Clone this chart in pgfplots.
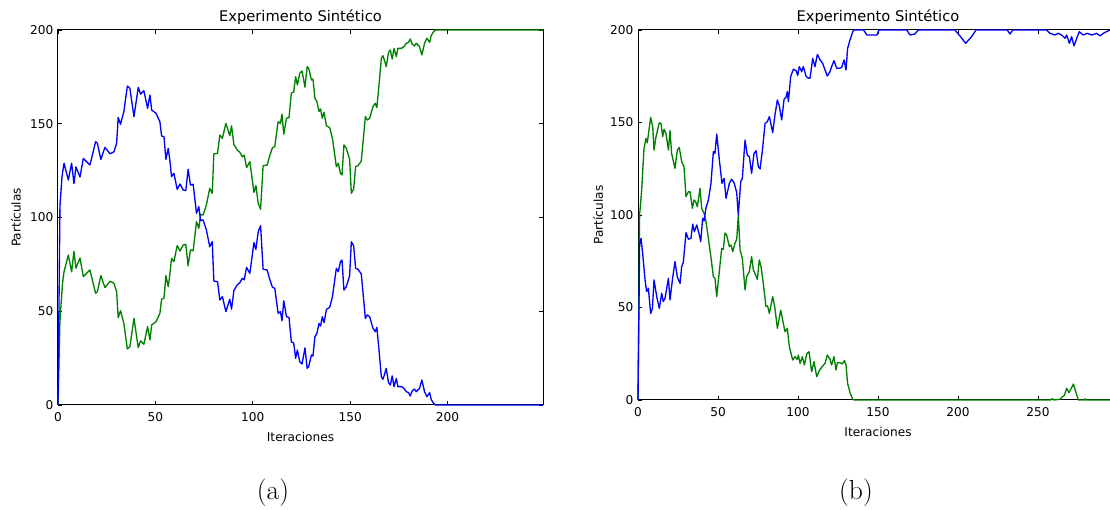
\documentclass[border=0pt]{standalone}
\usepackage{fontspec}
\newfontfamily\dejavu{DejaVu Sans}
\usepackage{pgfplots}
\pgfplotsset{compat=1.18}

\definecolor{mplblue}{rgb}{0,0,1}
\definecolor{mplgreen}{rgb}{0,0.5,0}

% shared look of both panels (matplotlib classic style)
\pgfplotsset{
  sint/.style={
    scale only axis,
    ymin=0, ymax=200, ytick={0,50,100,150,200},
    /pgf/number format/assume math mode=true,
    tick label style={font=\dejavu\fontsize{9.1}{11}\selectfont},
    xticklabel style={yshift=-2.4pt},
    label style={font=\dejavu\fontsize{9.1}{11}\selectfont},
    every axis title shift=0pt,
    title style={font=\dejavu\fontsize{11}{13}\selectfont,
                 at={(axis description cs:0.5,1.035)}, anchor=center},
    title={Experimento Sintético},
    xlabel={Iteraciones}, ylabel={Partículas},
    tick align=inside,
    major tick length=3pt,
    axis line style={line width=0.75pt},
    tick style={black, line width=0.5pt},
    clip=false,
  },
  blueline/.style={color=mplblue, line width=1pt, line join=round},
  greenline/.style={color=mplgreen, line width=1pt, line join=round},
}

\begin{document}
\begin{tikzpicture}

% ---------- (a) ----------
\begin{axis}[sint,
    at={(43.5pt,78.75pt)}, anchor=south west,
    width=363.75pt, height=281.25pt,
    xmin=0, xmax=249, xtick={0,50,100,150,200},
    xlabel style={at={(axis description cs:0.5,-0.085)}, anchor=center},
    ylabel style={at={(axis description cs:-0.087,0.5)}, anchor=center},
]
\addplot[greenline] coordinates {
(0,0) (1,45) (2,60) (2.4,65.8) (3.1,71.1) (5.3,80) (7,71) (8.2,82) (9.2,73)
(11.3,78.4) (13,68.5) (16.4,72) (19.3,59.6) (20.2,60.4) (22,69) (24.1,62.6)
(26.7,66) (28.7,65) (30.1,60.4) (30.9,46.6) (32.1,50.3) (33.8,43.6) (35.6,29.9)
(36.9,31.1) (39,46.2) (41.2,30.6) (42.4,34.2) (44.1,32.4) (46,41.8) (47.2,34.7)
(48.1,42.7) (50.3,44.4) (52.3,48.9) (53.2,56.5) (54.4,56.9) (55.4,69) (56.6,63.1)
(57.4,69.3) (58.3,78.2) (59.5,76.4) (61.2,85) (62.6,82.1) (64.3,85.3) (65.6,85.7)
(66.8,74.3) (68,82.7) (69.4,82.3) (71.1,97.8) (72.3,94.2) (73.2,101.7) (74.5,101.3)
(76.2,106.7) (77.9,115.6) (79.2,112.9) (80,133.9) (81.9,134.2) (83.1,144) (84.4,142.2)
(86.2,150.2) (88.2,143.6) (89.1,148.9) (90.3,139) (92,136) (93.4,134.7) (94.6,132.4)
(95.6,133.3) (96.8,126.6) (98.5,129.8) (100.6,113.4) (101.6,117) (102.8,107.5)
(104,104.4) (105.3,127.6) (107.4,128) (108.7,132.9) (110.1,137.2) (111.3,137.8)
(113,151.1) (114.2,150.2) (115,155.1) (115.9,144.4) (117.3,152.9) (118.6,153.3)
(119.8,166.3) (121,166.9) (122,175.1) (122.9,170.7) (124.1,176.9) (125.3,178.1)
(126.8,169.5) (127.9,180.4) (128.7,179.6) (130.1,173.3) (130.9,173.9) (131.9,163.6)
(132.9,161.8) (134,156.5) (134.8,157.9) (135.7,152.9) (136.6,156.1) (137.8,149)
(139.5,147.9) (140.9,142.2) (142.9,127.1) (143.9,128.9) (145,123.6) (145.8,122.7)
(146.8,138.7) (148,136.9) (149.7,131.2) (150.6,112.9) (151.8,115.2) (152.8,127.1)
(154,127.6) (155.7,130.1) (156.9,143.6) (157.8,153.8) (158.8,152) (160,152.9)
(161.7,159.1) (162.9,160.9) (163.7,158.6) (164.8,170.7) (166,184.9) (166.8,186.3)
(167.7,183.5) (168.5,180.4) (169.7,188.1) (170.6,189.3) (171.6,184.5) (172.5,190.2)
(173.7,185.8) (174.5,190.2) (176.3,190.2) (177.6,191.1) (178.8,192.9) (180,193.4)
(180.8,195.2) (181.9,192.4) (183,191.5) (183.9,192.9) (185.6,191.1) (186.8,186.7)
(188.2,192.9) (189.4,195.6) (190.8,193.4) (191.6,197) (192.8,199.1) (193.8,200)
(249,200)
};
\addplot[blueline] coordinates {
(0,0) (1,106) (2,121) (2.4,124.4) (3.1,128.9) (5.3,120) (7,129) (8.2,118) (9.2,127)
(11.3,121.6) (13,131.5) (16.4,128) (19.3,140.4) (20.2,139.6) (22,131) (24.1,137.4)
(26.7,134) (28.7,135) (30.1,139.6) (30.9,153.4) (32.1,149.7) (33.8,156.4) (35.6,170.1)
(36.9,168.9) (39,153.8) (41.2,169.4) (42.4,165.8) (44.1,167.6) (46,158.2) (47.2,165.3)
(48.1,157.3) (50.3,155.6) (52.3,151.1) (53.2,143.5) (54.4,143.1) (55.4,131) (56.6,136.9)
(57.4,130.7) (58.3,121.8) (59.5,123.6) (61.2,115) (62.6,117.9) (64.3,114.7) (65.6,114.3)
(66.8,125.7) (68,117.3) (69.4,117.7) (71.1,102.2) (72.3,105.8) (73.2,98.3) (74.5,98.7)
(76.2,93.3) (77.9,84.4) (79.2,87.1) (80,66.1) (81.9,65.8) (83.1,56) (84.4,57.8)
(86.2,49.8) (88.2,56.4) (89.1,51.1) (90.3,61) (92,64) (93.4,65.3) (94.6,67.6)
(95.6,66.7) (96.8,73.4) (98.5,70.2) (100.6,86.6) (101.6,83) (102.8,92.5) (104,95.6)
(105.3,72.4) (107.4,72) (108.7,67.1) (110.1,62.8) (111.3,62.2) (113,48.9) (114.2,49.8)
(115,44.9) (115.9,55.6) (117.3,47.1) (118.6,46.7) (119.8,33.7) (121,33.1) (122,24.9)
(122.9,29.3) (124.1,23.1) (125.3,21.9) (126.8,30.5) (127.9,19.6) (128.7,20.4)
(130.1,26.7) (130.9,26.1) (131.9,36.4) (132.9,38.2) (134,43.5) (134.8,42.1)
(135.7,47.1) (136.6,43.9) (137.8,51) (139.5,52.1) (140.9,57.8) (142.9,72.9)
(143.9,71.1) (145,76.4) (145.8,77.3) (146.8,61.3) (148,63.1) (149.7,68.8) (150.6,87.1)
(151.8,84.8) (152.8,72.9) (154,72.4) (155.7,69.9) (156.9,56.4) (157.8,46.2) (158.8,48)
(160,47.1) (161.7,40.9) (162.9,39.1) (163.7,41.4) (164.8,29.3) (166,15.1) (166.8,13.7)
(167.7,16.5) (168.5,19.6) (169.7,11.9) (170.6,10.7) (171.6,15.5) (172.5,9.8)
(173.7,14.2) (174.5,9.8) (176.3,9.8) (177.6,8.9) (178.8,7.1) (180,6.6) (180.8,4.8)
(181.9,7.6) (183,8.5) (183.9,7.1) (185.6,8.9) (186.8,13.3) (188.2,7.1) (189.4,4.4)
(190.8,6.6) (191.6,3) (192.8,0.9) (193.8,0) (249,0)
};
\end{axis}

% ---------- (b) ----------
\begin{axis}[sint,
    at={(478.5pt,82.5pt)}, anchor=south west,
    width=360pt, height=277.5pt,
    xmin=0, xmax=300, xtick={0,50,100,150,200,250},
    xlabel style={at={(axis description cs:0.5,-0.087)}, anchor=center},
    ylabel style={at={(axis description cs:-0.083,0.5)}, anchor=center},
]
\addplot[greenline] coordinates {
(0,0) (1,100) (2.3,113.5) (3.75,136) (5,141.4) (5.8,139) (7.9,152.7) (9.2,147.7)
(10,135.1) (11.25,142.3) (13.3,149.9) (14.4,149.5) (15.4,142.3) (16.3,146.3)
(17.5,144.1) (19,135.1) (20,145.6) (21,133.3) (23.1,125.2) (24.6,135.1) (25.8,136.5)
(27.3,128.8) (28.75,126.1) (30,109.9) (31.5,112.6) (32.5,112.6) (34,103.6) (35,108.1)
(36,107.2) (37.1,104.5) (38.75,114.4) (39.8,103.6) (40.8,101.8) (41.3,100.9)
(42.5,96.4) (44,87.4) (45.4,78.4) (47.1,66.7) (48.1,65.8) (49.2,55.9) (50.8,69.4)
(52.3,81.9) (53.3,81.4) (54.4,90.3) (55.4,89.2) (57.1,82.9) (58.1,83.8) (59.2,80.2)
(60.6,84.7) (61.7,86.9) (62.7,100) (63.8,81.1) (65.2,76.6) (66.9,59.5) (67.9,66.7)
(69.6,69.4) (71,77.5) (72.1,70.3) (73.5,67.6) (74.6,65.2) (75.8,75.7) (76.9,72.1)
(78.3,63.1) (80,50.5) (81,50.8) (82.1,46.8) (84.2,55.9) (85.6,49.5) (87.1,38.7)
(89.2,48.6) (90.4,43.2) (91.9,36.9) (93.3,38.7) (94.6,28.8) (96.7,21.6) (98.1,23.4)
(99.6,22) (100.2,24.3) (101.3,19.8) (102.7,23.4) (104,18.9) (105.4,24.9) (106.9,26.1)
(108.5,15.3) (110,20.7) (111.7,12.6) (113.3,15.9) (115.4,18.4) (116.9,19.8)
(118.3,24.3) (120,22) (121,18.9) (122.5,23.4) (123.75,16.2) (124.6,20.2)
(126.25,20.2) (127.7,19.5) (129,21.3) (130,18.9) (131,9) (132.5,4) (134.2,0.4)
(135,0) (258,0) (259,0.7) (260,0) (263.7,0.4) (265.4,1.8) (266.5,2.5) (267.9,6.3)
(269.4,4) (272.1,8.6) (274.2,2.7) (275.2,0) (279,0) (279.4,0.6) (280,0) (299,0)
};
\addplot[blueline] coordinates {
(0,0) (1,84) (1.9,87.4) (2.9,79.3) (4.4,64.9) (5.4,58.6) (6.5,60.4) (7.9,46.8) (9,49.5)
(10,64.9) (11.7,55.9) (13.3,49.5) (14.8,57.7) (15.8,53.2) (16.9,55) (19,65.8) (20,54.1)
(21.5,64.9) (23.1,74.8) (24.6,66.4) (26.3,63.1) (27.3,72.1) (28.3,74.3) (30,90.5)
(31.5,86.9) (33.1,87.4) (34.2,95.1) (35.2,91) (36.7,94.6) (38.1,90.1) (39.2,85.6)
(40.4,98.2) (41.3,96.9) (42.5,104) (44,108.1) (45.6,117.1) (47.1,134.2) (48.1,133.3)
(49.2,143.8) (50.8,130.1) (52.5,117.1) (53.8,119.8) (55,109) (57.1,117.1) (58.5,119.3)
(60,117.5) (61.7,112.1) (62.7,100) (64.2,118.1) (65.2,119.8) (66.9,140.5) (68.3,132.4)
(69.6,131.5) (71,122.5) (72.5,133.3) (73.8,134.7) (75.2,126.1) (76.3,124.9)
(77.9,136.1) (79.4,149.5) (80.8,150.4) (82.1,153.2) (84.2,144.5) (85.6,154.1)
(87.1,162.2) (88.3,159) (89.8,151.4) (91.3,162.6) (92.5,163.6) (93.3,166.7) (94,161.3)
(95.4,174.8) (97.1,178.8) (98.8,178.1) (99.8,175.4) (100.8,180.2) (102.3,177.5)
(103.3,180.2) (105,175.1) (106.5,173.9) (107.5,173.9) (109.2,184.7) (110.6,180.2)
(112.1,186.8) (113.8,183.8) (115.4,182) (116.9,178.4) (118.3,175.1) (120,177.5)
(121,180.2) (122.5,183.4) (124.2,179.3) (125.8,179.3) (127.3,179.8) (128.8,183.8)
(130,178.4) (131,190.1) (132.5,194.6) (134.2,199.1) (135,200) (141,200) (143,197.3)
(145,197.3) (149.5,197.3) (150.5,200) (168,200) (170,197.3) (173,197.8) (175.2,200)
(198,200) (201.2,196.8) (204.8,192.8) (208.5,196.4) (211.2,200) (230.8,200)
(232.5,197.8) (234.2,200) (255.4,200) (257.5,198.2) (260.6,197.3) (262.7,198.2)
(264.8,197.3) (266.9,195.5) (267.9,197.3) (269.6,192.8) (271,196.4) (272.5,191.4)
(274.2,195.5) (275.8,199.1) (278.3,197.3) (280.8,198.2) (283.5,197.3) (286.7,198.2)
(288.8,196.8) (290.8,198.2) (292.9,199.1) (295,200) (299,200)
};
\end{axis}

% subfigure captions
\node[font=\fontsize{20.7}{24}\selectfont, inner sep=0pt, anchor=center] at (204.75pt,12.75pt) {(a)};
\node[font=\fontsize{20.7}{24}\selectfont, inner sep=0pt, anchor=center] at (642pt,12.75pt) {(b)};

\pgfresetboundingbox
\path[use as bounding box] (0,0) rectangle (832.5pt,382.5pt);
\end{tikzpicture}
\end{document}
